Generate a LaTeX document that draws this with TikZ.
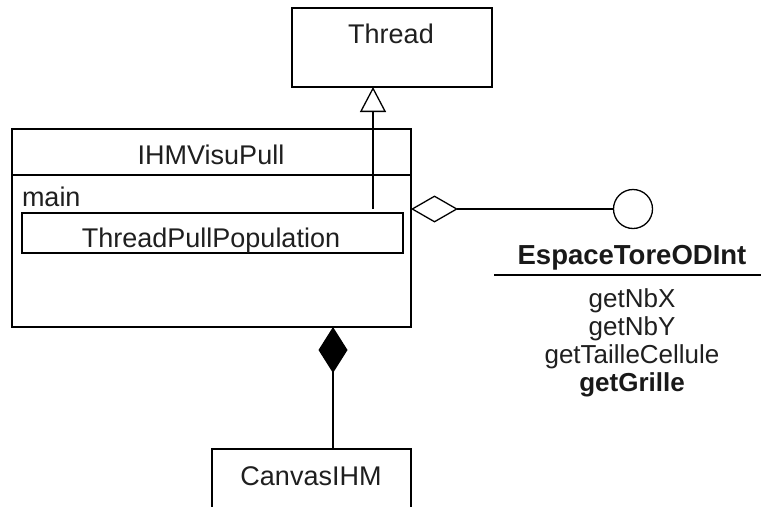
\documentclass[tikz,border=0pt]{standalone}
\usepackage{fontspec}
\setmainfont{Liberation Sans}
\usetikzlibrary{arrows.meta}
\begin{document}
\begin{tikzpicture}[x=1pt,y=-1pt,
  every node/.style={inner sep=0pt,outer sep=0pt},
  lw/.style={line width=1.3pt},
  umlbox/.style={draw,lw,fill=white,rectangle},
  txt/.style={anchor=base,font=\fontsize{27}{30}\selectfont,text=black!88},
  itxt/.style={anchor=base,font=\fontsize{26}{30}\selectfont,text=black!88},
  ibold/.style={anchor=base,font=\fontsize{26}{30}\selectfont\bfseries,text=black!90},
  ititle/.style={anchor=base,font=\fontsize{27.5}{30}\selectfont\bfseries,text=black!90}]
\useasboundingbox[fill=white] (0,0) rectangle (762,506);
\begin{scope}
\clip (0,0) rectangle (762,506);
% Thread
\node[umlbox,minimum width=200pt,minimum height=79pt] (thread) at (392,47.5) {};
\node[txt] (threadt) at (391,43) {Thread};
% IHMVisuPull
\node[umlbox,minimum width=399pt,minimum height=198pt] (ihm) at (211.5,228) {};
\draw[lw] (ihm.west |- 0,175) coordinate (hl) -- (ihm.east |- 0,175) coordinate (hr);
\node[txt] (ihmt) at (211,164) {IHMVisuPull};
\node[txt,anchor=base west] (mainl) at (22,206) {main};
\node[umlbox,minimum width=381pt,minimum height=40pt] (tpp) at (212.5,233) {};
\node[txt] (tppt) at (211,247) {ThreadPullPopulation};
% CanvasIHM
\node[umlbox,minimum width=199pt,minimum height=100pt] (canvas) at (311.5,499) {};
\node[txt] (canvast) at (311,485) {CanvasIHM};
% interface
\node[draw,lw,circle,minimum size=39pt,fill=white] (iface) at (633,209) {};
\node[ititle] (ifacet) at (632,264) {EspaceToreODInt};
\coordinate (il) at (494,275);
\coordinate (ir) at (761,275);
\draw[lw] (il) -- (ir);
\node[itxt] (m1) at (632,307) {getNbX};
\node[itxt] (m2) at (632,335) {getNbY};
\node[itxt] (m3) at (632,363) {getTailleCellule};
\node[ibold] (m4) at (632,391) {getGrille};
% inheritance
\coordinate (inh) at (373,209);
\draw[lw,-{Triangle[open,length=25pt,width=26pt,line width=1.3pt]}] (inh) -- (inh |- thread.south);
% aggregation
\coordinate (agg) at (411,209);
\draw[lw,{Diamond[open,length=47pt,width=27pt,line width=1.3pt]}-] (agg) -- (iface.west);
% composition
\coordinate (comp) at (333,327);
\draw[lw,{Diamond[length=46pt,width=29pt]}-] (comp) -- (comp |- canvas.north);
\end{scope}
\end{tikzpicture}
\end{document}
